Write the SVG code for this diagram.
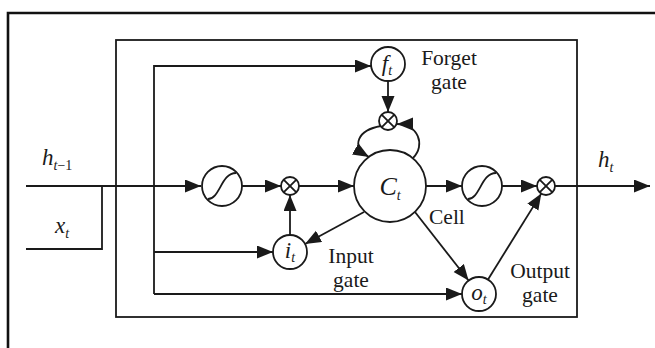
<svg xmlns="http://www.w3.org/2000/svg" width="655" height="348" viewBox="0 0 655 348">
<style>
.ln{fill:none;stroke:#1a1a1a;stroke-width:1.8}
.nd{fill:#fff;stroke:#1a1a1a;stroke-width:1.8}
.ar{marker-end:url(#ah)}
text{font-family:"Liberation Serif","Times New Roman",serif;fill:#1a1a1a}
.lb{font-size:23px}
.gt{font-size:21.5px}
.it{font-style:italic}
.sub{font-size:14px}
</style>
<defs>
<marker id="ah" markerUnits="userSpaceOnUse" markerWidth="18" markerHeight="14" refX="16" refY="6.5" orient="auto">
<path d="M0,0 L16,6.5 L0,13 z" fill="#1a1a1a"/>
</marker>
</defs>
<rect width="655" height="348" fill="#fff"/>
<path d="M8 348 V13 H655" fill="none" stroke="#111" stroke-width="2.6"/>
<g id="frame">
<rect x="116" y="40" width="461" height="277" class="ln"/>
</g>
<g id="connectors">
<path class="ln ar" d="M26 186 H201"/>
<path class="ln" d="M26 249 H102 V186"/>
<path class="ln ar" d="M154 294 V66 H371"/>
<path class="ln ar" d="M154 294 H462"/>
<path class="ln ar" d="M154 252 H273"/>
<path class="ln ar" d="M242 186 H281"/>
<path class="ln ar" d="M290 235 V195"/>
<path class="ln ar" d="M299 186 H354"/>
<path class="ln ar" d="M388 81 V112"/>
<path class="ln ar" d="M381 126 C 358 130, 350 146, 369 157"/>
<path class="ln ar" d="M413 158 C 426 145, 418 124, 397 124"/>
<path class="ln ar" d="M426 186 H462"/>
<path class="ln ar" d="M502 186 H537"/>
<path class="ln ar" d="M555 186 H650"/>
<path class="ln ar" d="M364 212 L305 244"/>
<path class="ln ar" d="M415 212 L468.6 280.5"/>
<path class="ln ar" d="M488 279.5 L541.3 193.6"/>
</g>
<g id="sig1">
<circle cx="222" cy="186" r="20" class="nd"/>
<path class="ln" d="M208 199 C 220 199, 221 173, 236 173"/>
</g>
<g id="mul1">
<circle cx="290" cy="186" r="9" class="nd"/>
<path class="ln" d="M283.6 179.6 L296.4 192.4 M296.4 179.6 L283.6 192.4"/>
</g>
<g id="cell">
<circle cx="390" cy="186" r="36" class="nd"/>
<text x="390" y="195" text-anchor="middle" style="font-size:26px"><tspan class="it">C</tspan><tspan class="it sub" dy="5">t</tspan></text>
</g>
<g id="forget">
<circle cx="388" cy="64" r="17" class="nd"/>
<text x="387" y="71" text-anchor="middle" class="lb"><tspan class="it">f</tspan><tspan class="it sub" dy="4">t</tspan></text>
</g>
<g id="mulf">
<circle cx="388" cy="121" r="9" class="nd"/>
<path class="ln" d="M381.6 114.6 L394.4 127.4 M394.4 114.6 L381.6 127.4"/>
</g>
<g id="input">
<circle cx="290" cy="252" r="17" class="nd"/>
<text x="290" y="258" text-anchor="middle" class="lb"><tspan class="it">i</tspan><tspan class="it sub" dy="4">t</tspan></text>
</g>
<g id="output">
<circle cx="479" cy="294" r="17" class="nd"/>
<text x="479" y="300" text-anchor="middle" class="lb"><tspan class="it">o</tspan><tspan class="it sub" dy="4">t</tspan></text>
</g>
<g id="sig2">
<circle cx="482" cy="186" r="20" class="nd"/>
<path class="ln" d="M468 199 C 480 199, 481 173, 496 173"/>
</g>
<g id="mul2">
<circle cx="546" cy="186" r="9" class="nd"/>
<path class="ln" d="M539.6 179.6 L552.4 192.4 M552.4 179.6 L539.6 192.4"/>
</g>
<g id="labels">
<text x="42" y="165" class="lb"><tspan class="it">h</tspan><tspan class="sub" dy="5"><tspan class="it">t</tspan>−1</tspan></text>
<text x="55" y="233" class="lb"><tspan class="it">x</tspan><tspan class="it sub" dy="5">t</tspan></text>
<text x="598" y="167" class="lb"><tspan class="it">h</tspan><tspan class="it sub" dy="5">t</tspan></text>
<text x="449" y="65" text-anchor="middle" class="gt">Forget</text>
<text x="449" y="89" text-anchor="middle" class="gt">gate</text>
<text x="429" y="224" class="gt">Cell</text>
<text x="351" y="263" text-anchor="middle" class="gt">Input</text>
<text x="351" y="287" text-anchor="middle" class="gt">gate</text>
<text x="540" y="278" text-anchor="middle" class="gt">Output</text>
<text x="540" y="302" text-anchor="middle" class="gt">gate</text>
</g>
</svg>
